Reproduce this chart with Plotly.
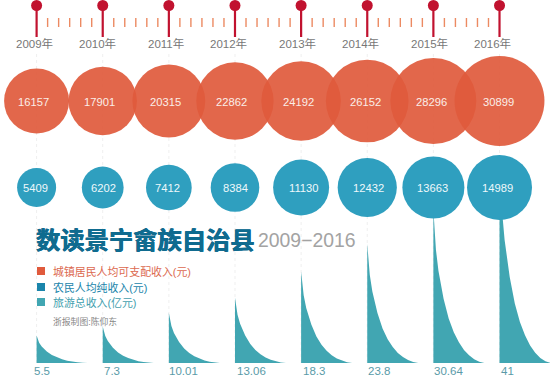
import plotly.graph_objects as go

years = [2009, 2010, 2011, 2012, 2013, 2014, 2015, 2016]
urban_income = [16157, 17901, 20315, 22862, 24192, 26152, 28296, 30899]
rural_income = [5409, 6202, 7412, 8384, 11130, 12432, 13663, 14989]
tourism = [5.5, 7.3, 10.01, 13.06, 18.3, 23.8, 30.64, 41]
tourism_labels = ["5.5", "7.3", "10.01", "13.06", "18.3", "23.8", "30.64", "41"]
legend_labels = ["城镇居民人均可支配收入(元)", "农民人均纯收入(元)", "旅游总收入(亿元)"]
title_text = "数读景宁畲族自治县"
range_text = "2009−2016"
credit_text = "浙报制图:陈仰东"

# normalised silhouette of one tourism "tail"
tail_t = [0, .02, .05, .1, .15, .2, .3, .4, .5, .6, .7, .8, .9, 1]
tail_f = [1, .87, .74, .6, .5, .42, .29, .2, .135, .085, .05, .025, .008, 0]

RED, BLUE, TEAL = "#e05a3c", "#2f9fbf", "#41a6b2"
PIN = "#c1122f"
FONT = "Liberation Sans, Noto Sans CJK SC, sans-serif"

PX_X = 66.13
X0 = 2009 - 36.6 / PX_X
X1 = X0 + 550 / PX_X
PX_V = 5.0           # pixels per tourism unit
TAIL_W = 51 / PX_X

fig = go.Figure()

# dotted guides (bottom layer, on the value axis)
gx, gy = [], []
for yr in years:
    gx += [yr, yr, None]
    gy += [0, 62, None]
fig.add_trace(go.Scatter(x=gx, y=gy, mode="lines", yaxis="y",
                         line=dict(color="#efefef", width=1, dash="dot"), hoverinfo="skip"))

# tails
for yr, v in zip(years, tourism):
    fig.add_trace(go.Scatter(x=[yr + t * TAIL_W for t in tail_t] + [yr],
                             y=[v * f for f in tail_f] + [0],
                             mode="lines", fill="toself", fillcolor=TEAL,
                             line=dict(width=0, color=TEAL), yaxis="y", hoverinfo="skip"))

# second axis runs in screen rows for timeline / bubbles / key
ROW_PIN, ROW_TICK, ROW_LABEL, ROW_URBAN, ROW_RURAL = 5.5, 22.5, 43, 101, 187.5

# minor ticks
tx, ty = [], []
for yr in years[:-1]:
    for k in range(1, 6):
        tx += [yr + k / 6, yr + k / 6, None]
        ty += [ROW_TICK - 4.5, ROW_TICK + 4.5, None]
fig.add_trace(go.Scatter(x=tx, y=ty, mode="lines", yaxis="y2",
                         line=dict(color="#ec8a62", width=1.4), hoverinfo="skip"))

# pins
px_, py_ = [], []
for yr in years:
    px_ += [yr, yr, None]
    py_ += [ROW_PIN, 37, None]
fig.add_trace(go.Scatter(x=px_, y=py_, mode="lines", yaxis="y2",
                         line=dict(color=PIN, width=2.2), hoverinfo="skip"))
fig.add_trace(go.Scatter(x=years, y=[ROW_PIN] * 8, mode="markers", yaxis="y2",
                         marker=dict(color=PIN, size=11), hoverinfo="skip"))

# bubbles
fig.add_trace(go.Scatter(x=years, y=[ROW_URBAN] * 8, mode="markers", yaxis="y2",
                         marker=dict(size=urban_income, sizemode="area", sizeref=7.65,
                                     color=RED, opacity=0.92, line=dict(width=0)), hoverinfo="skip"))
fig.add_trace(go.Scatter(x=years, y=[ROW_RURAL] * 8, mode="markers", yaxis="y2",
                         marker=dict(size=rural_income, sizemode="area", sizeref=7.1,
                                     color=BLUE, opacity=1, line=dict(width=0)), hoverinfo="skip"))

# key squares
key_rows = [271, 287, 302]
key_cols = [RED, "#1a85ab", TEAL]
X_KEY = X0 + 41 / PX_X
fig.add_trace(go.Scatter(x=[X_KEY] * 3, y=key_rows, mode="markers", yaxis="y2",
                         marker=dict(symbol="square", size=8, color=key_cols), hoverinfo="skip"))

ann = []
def note(x, y, s, size, color, anchor="center", xshift=0, yref="y2", family=FONT, shadow=None):
    font = dict(family=family, size=size, color=color)
    if shadow:
        font["shadow"] = shadow
    ann.append(dict(x=x, y=y, text=s, xref="x", yref=yref, showarrow=False, xanchor=anchor,
                    yanchor="middle", xshift=xshift, font=font, borderpad=0))

label_shift = [-2.6, -5, -3, -6, -4, -7, -4, -7]
for yr, sh in zip(years, label_shift):
    note(yr, ROW_LABEL, f"{yr}年", 11.5, "#777777", xshift=sh)
urban_shift = [-3.5, -3.5, -3, -3, -2.5, -2, -1.5, -1.5]
for yr, v, sh in zip(years, urban_income, urban_shift):
    note(yr, ROW_URBAN + 1, str(v), 11.2, "#fbeee8", xshift=sh)
rural_shift = [-1.6, 1, -1.7, 0.6, 2.6, 1, -0.4, -2]
for yr, v, sh in zip(years, rural_income, rural_shift):
    note(yr, ROW_RURAL, str(v), 11.2, "#eef8fb", xshift=sh)
tail_shift = [-3.5, 0, -1, 1, 1, 0, 0, 0]
for yr, s, sh in zip(years, tourism_labels, tail_shift):
    note(yr, 371, s, 11.5, "#5a9ba8", anchor="left", xshift=sh)

note(X0 + 35 / PX_X, 238, f"<b>{title_text}</b>", 24.3, "#0f6b8f", anchor="left",
     family="Noto Sans CJK SC, sans-serif",
     shadow="0.4px 0 0 #0f6b8f, -0.4px 0 0 #0f6b8f")
note(X0 + 257 / PX_X, 240, range_text, 19.4, "#a3a3a3", anchor="left")
text_cols = ["#dc6a50", "#1a85ab", "#43a0ae"]
for row, s, c in zip(key_rows, legend_labels, text_cols):
    note(X0 + 52 / PX_X, row, s, 10.9, c, anchor="left")
note(X0 + 52 / PX_X, 321, credit_text, 8.8, "#888888", anchor="left")

axis_off = dict(visible=False, showgrid=False, zeroline=False, fixedrange=True)
fig.update_layout(
    width=550, height=376, margin=dict(l=0, r=0, t=0, b=0),
    paper_bgcolor="white", plot_bgcolor="white", showlegend=False, annotations=ann,
    xaxis=dict(range=[X0, X1], **axis_off),
    yaxis=dict(range=[-13 / PX_V, 363 / PX_V], **axis_off),
    yaxis2=dict(range=[376, 0], overlaying="y", **axis_off),
)
fig.write_html("out.html", config=dict(displayModeBar=False),
               post_script="document.body.style.margin='0';document.documentElement.style.overflow='hidden';")
